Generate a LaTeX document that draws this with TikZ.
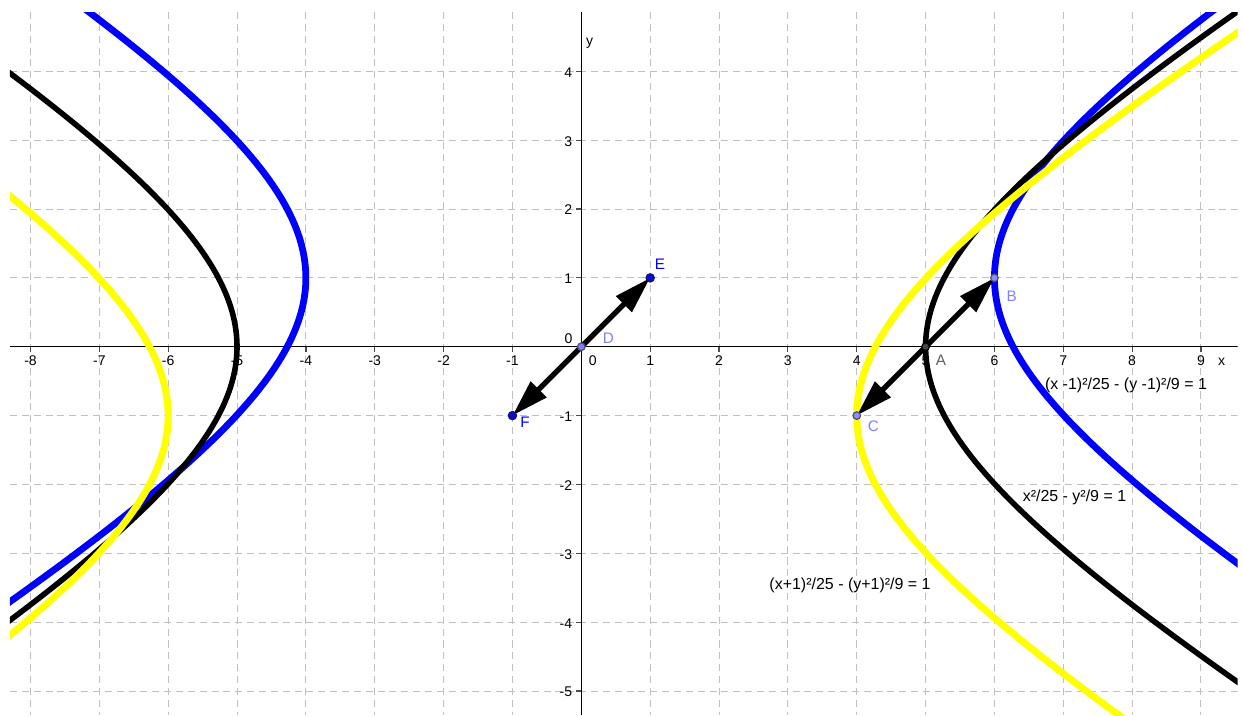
\documentclass[tikz,border=0pt]{standalone}
\usepackage{fontspec}
\setmainfont{Liberation Sans}
\usetikzlibrary{arrows.meta}
\definecolor{gridgray}{RGB}{192,192,192}
\definecolor{ggblue}{RGB}{0,0,255}
\definecolor{ggyellow}{RGB}{255,255,0}
\definecolor{ptdarkfill}{RGB}{10,10,220}
\definecolor{ptdarkline}{RGB}{20,20,110}
\definecolor{ptlightfill}{RGB}{140,140,255}
\definecolor{ptlightline}{RGB}{80,80,110}
\definecolor{lbllight}{RGB}{128,128,255}
\definecolor{lblgray}{RGB}{95,95,95}
\definecolor{ptgray}{RGB}{70,70,70}
\begin{document}
\begin{tikzpicture}[x=1cm,y=1cm,
  gridline/.style={gridgray, line width=0.4pt, dash pattern=on 2.9pt off 2pt},
  axisline/.style={black, line width=0.55pt},
  tickline/.style={black!70, line width=0.5pt},
  ticklbl/.style={font=\fontsize{5.8}{6}\selectfont, inner sep=0pt},
  eqlbl/.style={font=\fontsize{6.6}{7}\selectfont, inner sep=0pt},
  ptlbl/.style={font=\fontsize{6.3}{7}\selectfont, inner sep=0pt},
  hypblue/.style={ggblue, line width=2.8pt},
  hypblack/.style={black, line width=2.3pt},
  hypyellow/.style={ggyellow, line width=2.9pt},
  vec/.style={line width=2.2pt, -{Triangle[length=0.54cm,width=0.31cm]}},
  ptdark/.style={circle, fill=ptdarkfill, draw=ptdarkline, line width=0.5pt, inner sep=0pt, minimum size=0.12cm},
  ptmid/.style={circle, fill=lbllight, draw=ptlightline, line width=0.5pt, inner sep=0pt, minimum size=0.11cm},
  ptlight/.style={circle, fill=ptlightfill, draw=ptlightline, line width=0.5pt, inner sep=0pt, minimum size=0.11cm},
  ptgr/.style={circle, fill=ptgray, draw=black, line width=0.5pt, inner sep=0pt, minimum size=0.11cm}
]
\useasboundingbox[fill=white] (-8.443,-5.349) rectangle (9.596,5.036);
\begin{scope}
\clip (-8.298,-5.349) rectangle (9.531,4.861);
% grid
\foreach \i in {-8,...,9} \draw[gridline] (\i,4.861) -- (\i,-5.349);
\foreach \j in {-5,...,4} \draw[gridline] (-8.298,\j) -- (9.531,\j);
% axes
\draw[axisline] (-8.298,0) -- (9.531,0);
\draw[axisline] (0,-5.349) -- (0,4.861);
\foreach \i in {-8,...,-1,1,2,...,9} \draw[tickline] (\i,0) -- (\i,-0.075);
\foreach \j in {-5,...,-1,1,2,...,4} \draw[tickline] (0,\j) -- (-0.075,\j);
% hyperbolas
\draw[hypblue, domain=-1.8:1.8, samples=160, variable=\t] plot ({1+5*cosh(\t)},{1+3*sinh(\t)});
\draw[hypblue, domain=-1.8:1.8, samples=160, variable=\t] plot ({1-5*cosh(\t)},{1+3*sinh(\t)});
\draw[hypblack, domain=-1.8:1.8, samples=160, variable=\t] plot ({5*cosh(\t)},{3*sinh(\t)});
\draw[hypblack, domain=-1.8:1.8, samples=160, variable=\t] plot ({-5*cosh(\t)},{3*sinh(\t)});
\draw[hypyellow, domain=-1.8:1.8, samples=160, variable=\t] plot ({-1+5*cosh(\t)},{-1+3*sinh(\t)});
\draw[hypyellow, domain=-1.8:1.8, samples=160, variable=\t] plot ({-1-5*cosh(\t)},{-1+3*sinh(\t)});
\end{scope}
% tick labels
\foreach \i in {-8,...,-1,1,2,...,9} \node[ticklbl] (xl\i) at (\i,-0.205) {\i};
\foreach \j in {-5,...,-1,1,2,...,4} \node[ticklbl, anchor=east] (yl\j) at (-0.125,\j-0.015) {\j};
\node[ticklbl] (xl0) at (0.165,-0.205) {0};
\node[ticklbl] (yl0) at (-0.186,0.122) {0};
\node[ticklbl] (xname) at (9.30,-0.222) {x};
\node[ticklbl, anchor=base] (yname) at (0.12,4.37) {y};
% points
\coordinate (D) at (0,0);
\coordinate (E) at (1,1);
\coordinate (F) at (-1,-1);
\coordinate (A) at (5,0);
\coordinate (B) at (6,1);
\coordinate (C) at (4,-1);
\draw[vec] (D) -- (E);
\draw[vec] (D) -- (F);
\draw[vec] (A) -- (B);
\draw[vec] (A) -- (C);
\node[ptdark] (Ept) at (E) {};
\node[ptdark] (Fpt) at (F) {};
\node[ptmid] (Dpt) at (D) {};
\node[ptgr] (Apt) at (A) {};
\node[ptlight] (Bpt) at (B) {};
\node[ptlight] (Cpt) at (C) {};
% point labels
\node[ptlbl, text=ggblue] (Elbl) at (1.143,1.203) {E};
\node[ptlbl, text=ggblue] (Flbl) at (-0.818,-1.104) {F};
\node[ptlbl, text=lbllight] (Dlbl) at (0.392,0.122) {D};
\node[ptlbl, text=lblgray] (Albl) at (5.224,-0.193) {A};
\node[ptlbl, text=lbllight] (Blbl) at (6.251,0.726) {B};
\node[ptlbl, text=lbllight] (Clbl) at (4.241,-1.162) {C};
% equations
\node[eqlbl] (eqblue) at (7.911,-0.556) {(x -1)²/25 - (y -1)²/9 = 1};
\node[eqlbl] (eqblack) at (7.163,-2.183) {x²/25 - y²/9 = 1};
\node[eqlbl] (eqyellow) at (3.903,-3.464) {(x+1)²/25 - (y+1)²/9 = 1};
\end{tikzpicture}
\end{document}
